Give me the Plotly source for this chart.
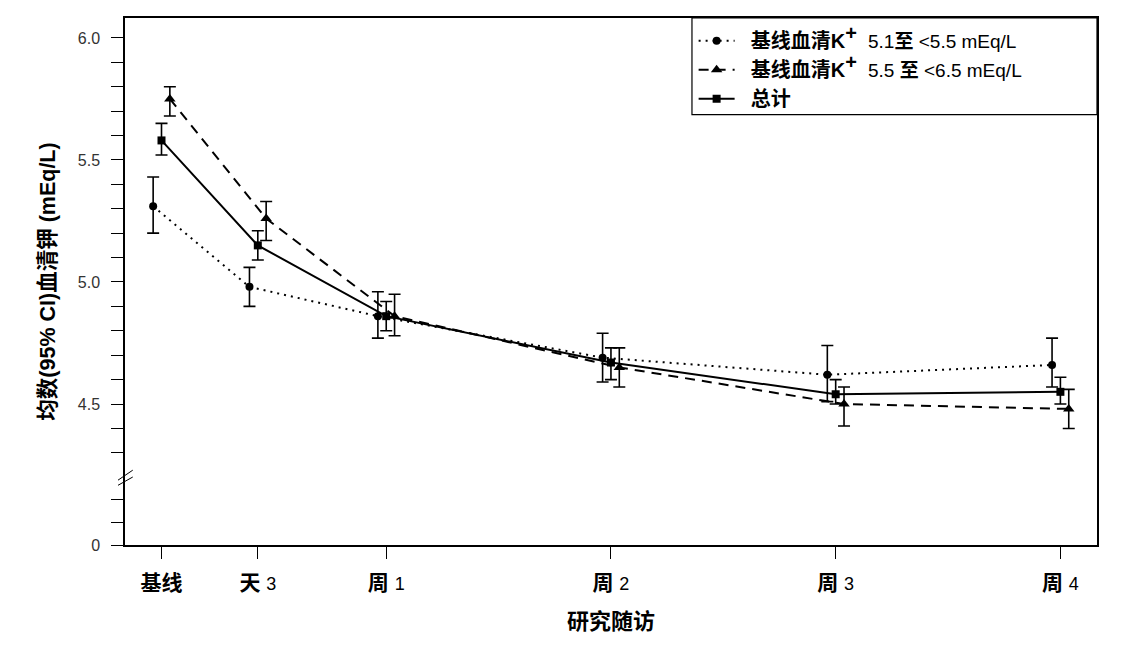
import plotly.graph_objects as go

# ---------------- data ----------------
visit_days = [0, 3, 7, 14, 21, 28]
visit_labels = [
    "<b>基线</b>",
    "<b>天</b> <span style='font-size:18px'>3</span>",
    "<b>周</b> <span style='font-size:18px'>1</span>",
    "<b>周</b> <span style='font-size:18px'>2</span>",
    "<b>周</b> <span style='font-size:18px'>3</span>",
    "<b>周</b> <span style='font-size:18px'>4</span>",
]

PAD = "&nbsp;&nbsp;"
SUP = "<sup><span style='font-size:20px'><b>+</b></span></sup>"
names = [
    PAD + "<b>基线血清K</b>" + SUP + "&nbsp;&nbsp;<span style='font-size:19px'>5.1<b>至</b> &lt;5.5 mEq/L</span>",
    PAD + "<b>基线血清K</b>" + SUP + "&nbsp;&nbsp;<span style='font-size:19px'>5.5 <b>至</b> &lt;6.5 mEq/L</span>",
    PAD + "<b>总计</b>",
]

mean_low = [5.31, 4.98, 4.86, 4.69, 4.62, 4.66]
lo_low = [5.20, 4.90, 4.77, 4.59, 4.51, 4.57]
hi_low = [5.43, 5.06, 4.96, 4.79, 4.74, 4.77]

mean_high = [5.75, 5.26, 4.86, 4.65, 4.50, 4.48]
lo_high = [5.68, 5.17, 4.78, 4.57, 4.41, 4.40]
hi_high = [5.80, 5.33, 4.95, 4.73, 4.57, 4.56]

mean_all = [5.58, 5.15, 4.86, 4.67, 4.54, 4.55]
lo_all = [5.52, 5.09, 4.80, 4.60, 4.50, 4.50]
hi_all = [5.65, 5.21, 4.92, 4.73, 4.60, 4.61]

y_major = [6.0, 5.5, 5.0, 4.5]
y_major_text = ["6.0", "5.5", "5.0", "4.5"]

# ---------------- styling helpers ----------------
DODGE = 0.26          # horizontal offset (days) between groups
ZERO_POS = 3.9224     # axis position used for the broken-axis "0"
LOWER_STEP = 0.093    # tick spacing of the short segment below the break

series = [
    (names[0], mean_low, lo_low, hi_low, -DODGE, "circle", 8, dict(dash="2px,5px", width=2)),
    (names[1], mean_high, lo_high, hi_high, DODGE, "triangle-up", 10, dict(dash="10px,7px", width=2)),
    (names[2], mean_all, lo_all, hi_all, 0.0, "square", 8, dict(dash="solid", width=2)),
]

fig = go.Figure()
for name, m, lo, hi, off, sym, size, line in series:
    fig.add_trace(go.Scatter(
        x=[d + off for d in visit_days],
        y=m,
        mode="lines+markers",
        name=name,
        line=dict(color="black", **line),
        marker=dict(symbol=sym, size=size, color="black"),
        error_y=dict(
            type="data", symmetric=False,
            array=[h - v for h, v in zip(hi, m)],
            arrayminus=[v - l for v, l in zip(m, lo)],
            color="black", thickness=1.6, width=6,
        ),
        cliponaxis=False,
    ))

# y ticks: majors with labels, minors unlabeled, plus the segment below the break
minor = [round(6.0 - 0.1 * i, 2) for i in range(1, 18) if round(6.0 - 0.1 * i, 2) not in y_major]
tickvals = y_major + minor + [ZERO_POS, ZERO_POS + LOWER_STEP, ZERO_POS + 2 * LOWER_STEP]
ticktext = y_major_text + [" "] * len(minor) + ["0", " ", " "]

fig.update_layout(
    width=1106, height=641,
    margin=dict(l=117, r=17, t=8, b=104),
    paper_bgcolor="white", plot_bgcolor="white",
    font=dict(family="Liberation Sans, Noto Sans CJK SC", color="black"),
    showlegend=True,
    legend=dict(
        x=0.585, y=0.994, xanchor="left", yanchor="top",
        bgcolor="rgba(0,0,0,0)", borderwidth=0,
        font=dict(family="Liberation Sans, Noto Sans CJK SC", size=20, color="black"),
        itemwidth=36, tracegroupgap=0,
    ),
    xaxis=dict(
        range=[-1.137, 29.14],
        tickmode="array", tickvals=visit_days, ticktext=visit_labels,
        ticks="outside", ticklen=12, tickwidth=1, tickcolor="black",
        tickfont=dict(family="Liberation Sans, Noto Sans CJK SC", size=21, color="black"),
        ticklabelstandoff=6,
        showline=True, linecolor="black", linewidth=1.5, mirror=True,
        showgrid=False, zeroline=False,
        title=dict(text="<b>研究随访</b>", font=dict(family="Noto Sans CJK SC", size=22, color="black"), standoff=21),
    ),
    yaxis=dict(
        range=[ZERO_POS, 6.0816],
        tickmode="array", tickvals=tickvals, ticktext=ticktext,
        ticks="outside", ticklen=12, tickwidth=1, tickcolor="black",
        tickfont=dict(family="Liberation Sans", size=16, color="#333333"),
        ticklabelstandoff=8,
        showline=True, linecolor="black", linewidth=1.5, mirror=True,
        showgrid=False, zeroline=False,
        title=dict(text="<b>均数(95% CI)血清钾 (mEq/L)</b>",
                   font=dict(family="Liberation Sans, Noto Sans CJK SC", size=21.5, color="black"), standoff=16),
    ),
)

# legend frame
fig.add_shape(type="rect", xref="paper", yref="paper", x0=0.5833, x1=1.0, y0=0.8166, y1=1.0,
              line=dict(color="black", width=1.2), fillcolor="rgba(0,0,0,0)", layer="above")

# axis break marks
for y0, y1 in [(4.188, 4.229), (4.167, 4.201)]:
    fig.add_shape(type="line", xref="paper", yref="y", x0=-0.0072, x1=0.008, y0=y0, y1=y1,
                  line=dict(color="black", width=1))

fig.write_html("out.html")
